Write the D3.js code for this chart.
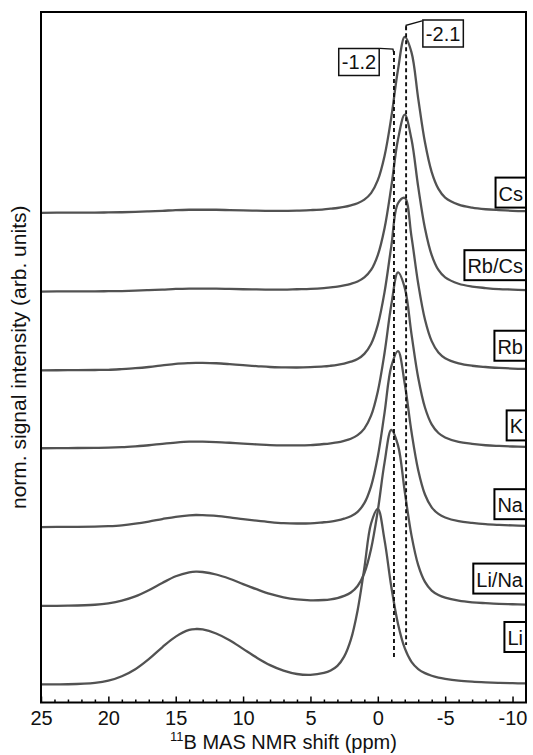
<!DOCTYPE html>
<html>
<head>
<meta charset="utf-8">
<script src="https://cdn.jsdelivr.net/npm/d3@7"></script>
<style>
  html, body { margin: 0; padding: 0; background: #fff; }
  svg { display: block; font-family: 'Liberation Sans', Arial, sans-serif; }
</style>
</head>
<body>
<script>
const W = 533, H = 755;

// chemical shift grid (ppm) shared by all spectra
const ppm = [25, 23, 21, 20, 19, 18, 17, 16, 15, 14,
  13.5, 13, 12, 11, 10, 9, 8, 7, 6, 5,
  4, 3.5, 3, 2.5, 2, 1.5, 1, 0.5, 0, -0.5,
  -1, -1.5, -2, -2.5, -3, -3.5, -4, -4.5, -5, -6,
  -7, -8, -9, -10, -11];

// normalised intensities, bottom to top
const li = [0.002, 0.003, 0.011, 0.023, 0.048, 0.088, 0.145, 0.212, 0.272, 0.310,
  0.315, 0.313, 0.290, 0.252, 0.203, 0.154, 0.111, 0.080, 0.061, 0.056,
  0.067, 0.081, 0.107, 0.159, 0.255, 0.420, 0.659, 0.911, 0.994, 0.817,
  0.555, 0.344, 0.207, 0.130, 0.089, 0.066, 0.051, 0.041, 0.034, 0.024,
  0.018, 0.014, 0.011, 0.009, 0.008];
const liNa = [0.001, 0.002, 0.007, 0.015, 0.030, 0.054, 0.089, 0.130, 0.168, 0.190,
  0.194, 0.192, 0.178, 0.154, 0.124, 0.095, 0.068, 0.049, 0.037, 0.032,
  0.034, 0.038, 0.045, 0.057, 0.076, 0.113, 0.185, 0.322, 0.539, 0.810,
  0.994, 0.907, 0.646, 0.399, 0.231, 0.136, 0.087, 0.062, 0.047, 0.030,
  0.021, 0.016, 0.012, 0.010, 0.008];
const na = [0.001, 0.002, 0.003, 0.006, 0.011, 0.020, 0.032, 0.046, 0.059, 0.067,
  0.069, 0.068, 0.064, 0.056, 0.046, 0.037, 0.029, 0.023, 0.021, 0.022,
  0.028, 0.031, 0.038, 0.048, 0.062, 0.087, 0.136, 0.231, 0.399, 0.646,
  0.907, 0.994, 0.810, 0.539, 0.322, 0.185, 0.112, 0.075, 0.055, 0.034,
  0.024, 0.017, 0.013, 0.010, 0.008];
const k = [0.001, 0.002, 0.003, 0.004, 0.007, 0.012, 0.018, 0.026, 0.033, 0.038,
  0.038, 0.038, 0.036, 0.032, 0.027, 0.023, 0.019, 0.017, 0.017, 0.019,
  0.025, 0.029, 0.034, 0.043, 0.055, 0.075, 0.112, 0.185, 0.322, 0.539,
  0.810, 0.994, 0.907, 0.646, 0.399, 0.231, 0.136, 0.087, 0.062, 0.037,
  0.026, 0.018, 0.014, 0.011, 0.009];
const rb = [0.001, 0.002, 0.003, 0.004, 0.008, 0.013, 0.020, 0.029, 0.038, 0.042,
  0.043, 0.043, 0.041, 0.036, 0.030, 0.025, 0.020, 0.018, 0.017, 0.019,
  0.023, 0.027, 0.032, 0.039, 0.050, 0.065, 0.094, 0.150, 0.258, 0.443,
  0.701, 0.945, 0.975, 0.756, 0.490, 0.288, 0.166, 0.102, 0.070, 0.041,
  0.027, 0.020, 0.015, 0.011, 0.009];
const rbCs = [0.001, 0.002, 0.002, 0.003, 0.004, 0.006, 0.009, 0.012, 0.016, 0.018,
  0.018, 0.018, 0.018, 0.016, 0.014, 0.013, 0.012, 0.012, 0.014, 0.016,
  0.021, 0.025, 0.029, 0.036, 0.045, 0.058, 0.081, 0.123, 0.207, 0.359,
  0.592, 0.861, 1.000, 0.861, 0.592, 0.359, 0.207, 0.123, 0.081, 0.045,
  0.029, 0.021, 0.015, 0.012, 0.009];
const cs = [0.001, 0.002, 0.002, 0.003, 0.004, 0.006, 0.009, 0.012, 0.016, 0.018,
  0.018, 0.018, 0.018, 0.016, 0.014, 0.013, 0.012, 0.012, 0.013, 0.016,
  0.020, 0.024, 0.028, 0.034, 0.043, 0.055, 0.075, 0.112, 0.185, 0.322,
  0.539, 0.810, 0.994, 0.907, 0.646, 0.399, 0.231, 0.136, 0.087, 0.047,
  0.030, 0.021, 0.016, 0.012, 0.010];

const names = ['Li', 'Li/Na', 'Na', 'K', 'Rb', 'Rb/Cs', 'Cs'];
const seriesValues = [li, liNa, na, k, rb, rbCs, cs];
const offsets = [0, 0.445, 0.89, 1.335, 1.775, 2.22, 2.665];

// reference lines (ppm)
const markers = [-1.2, -2.1];
const majorTicks = [25, 20, 15, 10, 5, 0, -5, -10];

const svg = d3.select('body').append('svg')
  .attr('width', W)
  .attr('height', H);

const x = d3.scaleLinear().domain([25, -11]).range([41, 526]);
const y = d3.scaleLinear().domain([-0.1, 3.8]).range([702.5, 12]);

const line = d3.line()
  .x(d => x(d[0]))
  .y(d => y(d[1]))
  .curve(d3.curveCatmullRom.alpha(0.5));

// spectra
seriesValues.forEach((vals, i) => {
  svg.append('path')
    .datum(ppm.map((p, j) => [p, vals[j] + offsets[i]]))
    .attr('fill', 'none')
    .attr('stroke', '#525252')
    .attr('stroke-width', 2.3)
    .attr('d', line);
});

// dashed reference lines
const dashTop = { '-1.2': 3.58, '-2.1': 3.72 };
const dashBottom = { '-1.2': 0.155, '-2.1': 0.225 };
markers.forEach(m => {
  svg.append('line')
    .attr('x1', x(m)).attr('x2', x(m))
    .attr('y1', y(dashTop[m])).attr('y2', y(dashBottom[m]))
    .attr('stroke', '#111')
    .attr('stroke-width', 1.9)
    .attr('stroke-dasharray', '4,3');
});

const fontSize = 20;
function boxLabel(cx, cy, txt) {
  const t = svg.append('text')
    .attr('x', cx).attr('y', cy)
    .attr('text-anchor', 'middle')
    .attr('dominant-baseline', 'central')
    .attr('font-size', fontSize)
    .attr('fill', '#111')
    .text(txt);
  const bb = t.node().getBBox();
  svg.insert('rect', () => t.node())
    .attr('x', bb.x - 3).attr('y', cy - 13.5)
    .attr('width', bb.width + 6).attr('height', 27)
    .attr('fill', '#fff')
    .attr('stroke', '#111')
    .attr('stroke-width', 1.5);
}

// -2.1 label, to the right of its line
const x21 = x(-2.1);
svg.append('path')
  .attr('d', `M${x21 + 16},${y(3.75)} L${x21},${y(3.725)} L${x21},${y(3.70)}`)
  .attr('fill', 'none').attr('stroke', '#111').attr('stroke-width', 1.3);
boxLabel(x21 + 37, 33.5, '-2.1');

// -1.2 label, to the left of its line
const x12 = x(-1.2);
svg.append('path')
  .attr('d', `M${x12 - 14},${y(3.595)} L${x12 - 1},${y(3.59)} L${x12},${y(3.56)}`)
  .attr('fill', 'none').attr('stroke', '#111').attr('stroke-width', 1.3);
boxLabel(x12 - 35, 62, '-1.2');

// frame
svg.append('rect')
  .attr('x', x.range()[0]).attr('y', y.range()[1])
  .attr('width', x.range()[1] - x.range()[0])
  .attr('height', y.range()[0] - y.range()[1])
  .attr('fill', 'none')
  .attr('stroke', '#000')
  .attr('stroke-width', 2);

// sample labels on right edge (height above each baseline)
const labelLift = [0.27, 0.155, 0.13, 0.13, 0.14, 0.15, 0.115];
names.forEach((n, i) => {
  const cy = y(offsets[i] + labelLift[i]);
  const t = svg.append('text')
    .attr('x', x.range()[1] - 3).attr('y', cy + 1)
    .attr('text-anchor', 'end')
    .attr('dominant-baseline', 'central')
    .attr('font-size', fontSize)
    .attr('fill', '#111')
    .text(n);
  const bb = t.node().getBBox();
  svg.insert('rect', () => t.node())
    .attr('x', bb.x - 3).attr('y', cy - 15)
    .attr('width', x.range()[1] - bb.x + 3).attr('height', 30)
    .attr('fill', '#fff')
    .attr('stroke', '#000')
    .attr('stroke-width', 2);
});

// x axis, ticks inside
const minor = d3.range(25, -11, -1).filter(v => v % 5 !== 0);
svg.append('g')
  .attr('transform', `translate(0,${y.range()[0]})`)
  .call(d3.axisBottom(x).tickValues(minor).tickSize(-3).tickFormat(''))
  .call(g => g.select('.domain').remove())
  .call(g => g.selectAll('line').attr('stroke-width', 1.5));

const xAxis = svg.append('g')
  .attr('transform', `translate(0,${y.range()[0]})`)
  .call(d3.axisBottom(x).tickValues(majorTicks).tickSize(-6).tickPadding(8).tickFormat(d3.format('d')));
xAxis.select('.domain').remove();
xAxis.selectAll('line').attr('stroke-width', 1.5);
xAxis.selectAll('text')
  .attr('font-size', 20)
  .attr('font-family', "'Liberation Sans', Arial, sans-serif")
  .attr('fill', '#111')
  .text(d => d < 0 ? '-' + Math.abs(d) : d);

// axis titles
const xt = svg.append('text')
  .attr('x', (x.range()[0] + x.range()[1]) / 2)
  .attr('y', 749)
  .attr('text-anchor', 'middle')
  .attr('font-size', 20)
  .attr('fill', '#111');
xt.append('tspan').attr('font-size', 13).attr('dy', -8).text('11');
xt.append('tspan').attr('dy', 8).text('B MAS NMR shift (ppm)');

svg.append('text')
  .attr('transform', `translate(26,${(y.range()[0] + y.range()[1]) / 2}) rotate(-90)`)
  .attr('text-anchor', 'middle')
  .attr('font-size', 21)
  .attr('fill', '#111')
  .text('norm. signal intensity (arb. units)');
</script>
</body>
</html>
